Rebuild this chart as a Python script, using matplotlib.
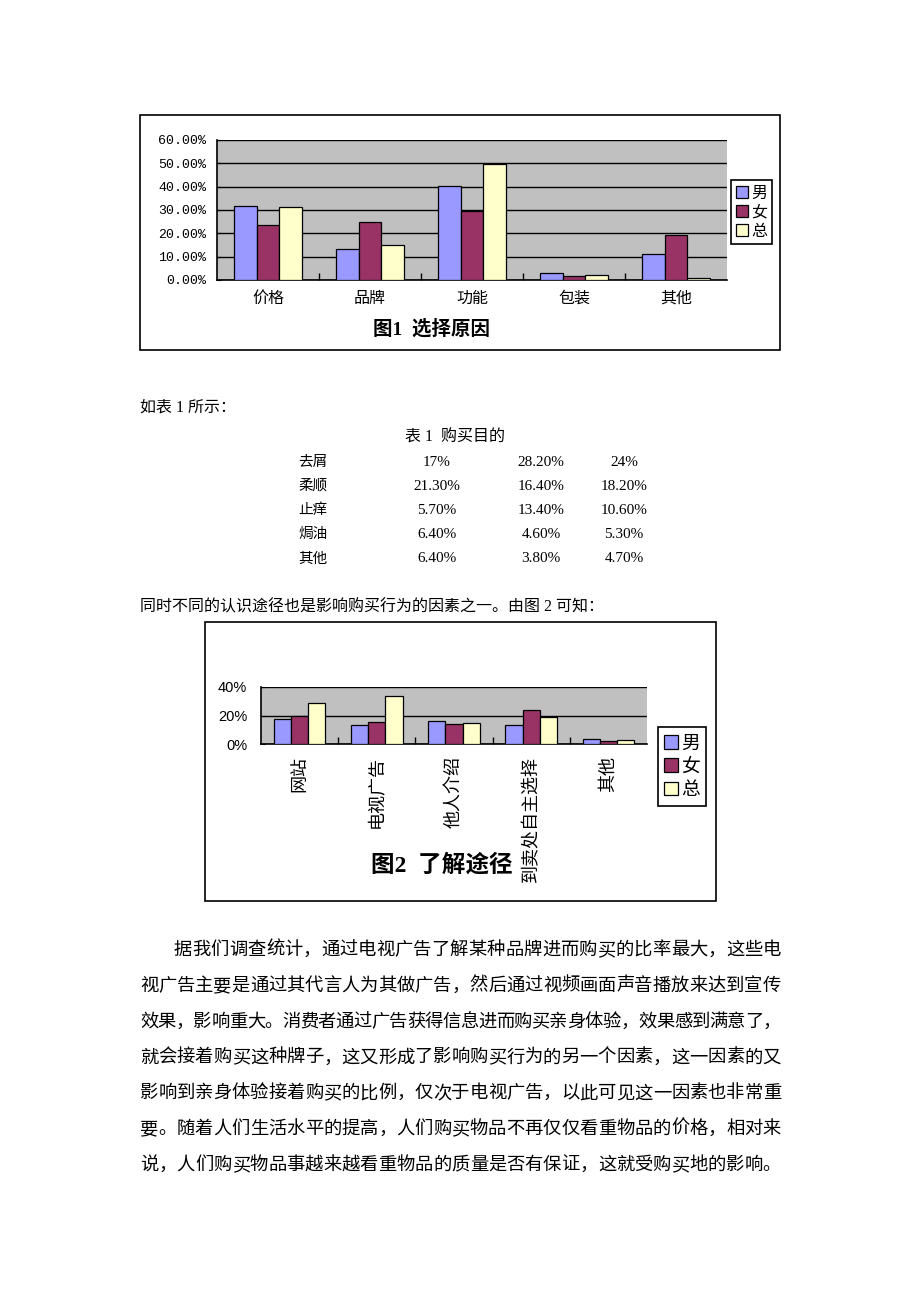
import numpy as np
import matplotlib
matplotlib.use('Agg')
import matplotlib.pyplot as plt
from matplotlib.patches import Rectangle

plt.rcParams['font.family'] = ['Liberation Serif', 'Noto Sans CJK SC']

# 图1 选择原因
reason_cats = ['价格', '品牌', '功能', '包装', '其他']
reason_male = [0.319, 0.133, 0.401, 0.029, 0.113]
reason_female = [0.236, 0.247, 0.296, 0.016, 0.193]
reason_total = [0.313, 0.150, 0.496, 0.020, 0.009]

# 表1 购买目的
purpose_rows = ['去屑', '柔顺', '止痒', '焗油', '其他']
purpose_male = ['17%', '21.30%', '5.70%', '6.40%', '6.40%']
purpose_female = ['28.20%', '16.40%', '13.40%', '4.60%', '3.80%']
purpose_total = ['24%', '18.20%', '10.60%', '5.30%', '4.70%']

# 图2 了解途径
channel_cats = ['网站', '电视广告', '他人介绍', '到卖处自主选择', '其他']
channel_male = [0.176, 0.136, 0.162, 0.136, 0.035]
channel_female = [0.199, 0.155, 0.139, 0.236, 0.018]
channel_total = [0.291, 0.338, 0.146, 0.192, 0.025]

series_names = ['男', '女', '总']
series_colors = ['#9999ff', '#993366', '#ffffcc']

paragraph = [
    '据我们调查统计，通过电视广告了解某种品牌进而购买的比率最大，这些电',
    '视广告主要是通过其代言人为其做广告，然后通过视频画面声音播放来达到宣传',
    '效果，影响重大。消费者通过广告获得信息进而购买亲身体验，效果感到满意了，',
    '就会接着购买这种牌子，这又形成了影响购买行为的另一个因素，这一因素的又',
    '影响到亲身体验接着购买的比例，仅次于电视广告，以此可见这一因素也非常重',
    '要。随着人们生活水平的提高，人们购买物品不再仅仅看重物品的价格，相对来',
    '说，人们购买物品事越来越看重物品的质量是否有保证，这就受购买地的影响。',
]

W, H = 920, 1302
fig = plt.figure(figsize=(W / 100, H / 100), dpi=100)


def rect(x0, y0, x1, y1):
    return [x0 / W, 1 - y1 / H, (x1 - x0) / W, (y1 - y0) / H]


def frame(x0, y0, x1, y1):
    fig.add_artist(Rectangle((x0 / W, 1 - y1 / H), (x1 - x0) / W, (y1 - y0) / H,
                             transform=fig.transFigure, fill=False,
                             ec='black', lw=1.2))


def put(x, y, s, **kw):
    fig.text(x / W, 1 - y / H, s, **kw)


def bar_chart(area, cats, values, ymax, step, fmt, tick_font, tick_pad,
              cat_size, cat_pad, rotation, legend_xy, legend_size):
    ax = fig.add_axes(rect(*area))
    ax.set_facecolor('#c0c0c0')
    x = np.arange(len(cats))
    w = 1 / 4.5
    for i, vals in enumerate(values):
        ax.bar(x + (i - 1) * w, vals, w, color=series_colors[i],
               edgecolor='black', lw=0.9, label=series_names[i], zorder=3)
    ax.set_xlim(-0.5, len(cats) - 0.5)
    ax.set_ylim(0, ymax)
    ticks = np.arange(0, ymax + 1e-9, step)
    ax.set_yticks(ticks)
    ax.set_yticklabels([fmt(v) for v in ticks], **tick_font)
    ax.yaxis.grid(True, color='black', lw=1)
    ax.set_axisbelow(True)
    ax.set_xticks(x)
    ax.set_xticklabels(cats, fontsize=cat_size, rotation=rotation,
                       family='Noto Sans CJK SC')
    ax.set_xticks(np.arange(0.5, len(cats) - 1, 1), minor=True)
    ax.tick_params(axis='x', which='major', length=0, pad=cat_pad)
    ax.tick_params(axis='x', which='minor', length=5, direction='in',
                   width=1)
    ax.tick_params(axis='y', length=3, direction='in', pad=tick_pad)
    for s in ['top', 'right']:
        ax.spines[s].set_visible(False)
    for s in ['left', 'bottom']:
        ax.spines[s].set_color('black')
        ax.spines[s].set_linewidth(1.2)
    leg = ax.legend(loc='upper left', bbox_to_anchor=(legend_xy[0] / W, 1 - legend_xy[1] / H),
                    bbox_transform=fig.transFigure, fancybox=False,
                    edgecolor='black', framealpha=1, borderaxespad=0,
                    prop={'family': 'Noto Sans CJK SC', 'size': legend_size},
                    handlelength=0.75, handleheight=0.75, handletextpad=0.2,
                    borderpad=0.3, labelspacing=0.12)
    leg.get_frame().set_linewidth(1.2)
    return ax


# ---- 图1 ----
frame(140, 115, 780, 350)
bar_chart((217, 140, 727, 280), reason_cats,
          [reason_male, reason_female, reason_total],
          0.6, 0.1, lambda v: f'{v * 100:.2f}%',
          {'family': 'Liberation Mono', 'fontsize': 9.5}, 8,
          11.5, 7, 0, (731, 180), 11.5)
put(432, 329, '图1  选择原因', ha='center', va='center', fontsize=14,
    fontweight='bold')

# ---- 表1 ----
put(140, 408, '如表 1 所示：', va='center', fontsize=11.5)
put(455, 438, '表 1  购买目的', ha='center', va='center', fontsize=11.5)
for i, name in enumerate(purpose_rows):
    y = 462 + i * 24.2
    put(298, y, name, va='center', fontsize=10.5)
    put(437, y, purpose_male[i], ha='center', va='center', fontsize=11)
    put(541, y, purpose_female[i], ha='center', va='center', fontsize=11)
    put(624, y, purpose_total[i], ha='center', va='center', fontsize=11)
put(140, 607, '同时不同的认识途径也是影响购买行为的因素之一。由图 2 可知：',
    va='center', fontsize=11.5)

# ---- 图2 ----
frame(205, 622, 716, 901)
bar_chart((261, 687, 647, 744), channel_cats,
          [channel_male, channel_female, channel_total],
          0.4, 0.2, lambda v: f'{v * 100:.0f}%',
          {'family': 'Liberation Sans', 'fontsize': 10.5}, 10,
          13, 9, 90, (658, 727), 13.5)
put(442, 865, '图2  了解途径', ha='center', va='center', fontsize=17,
    fontweight='bold')

# ---- 正文 ----
fs = 13.2
em = fs * 100 / 72
for k, line in enumerate(paragraph):
    x0 = 174 if k == 0 else 140
    x1 = 781
    y = 950 + k * 35.8
    n = len(line)
    stepx = (x1 - x0 - em) / (n - 1)
    for i, ch in enumerate(line):
        put(x0 + em / 2 + i * stepx, y, ch, ha='center', va='center',
            fontsize=fs, family='Noto Sans CJK SC')

fig.savefig('out.png', dpi=100, facecolor='white')
